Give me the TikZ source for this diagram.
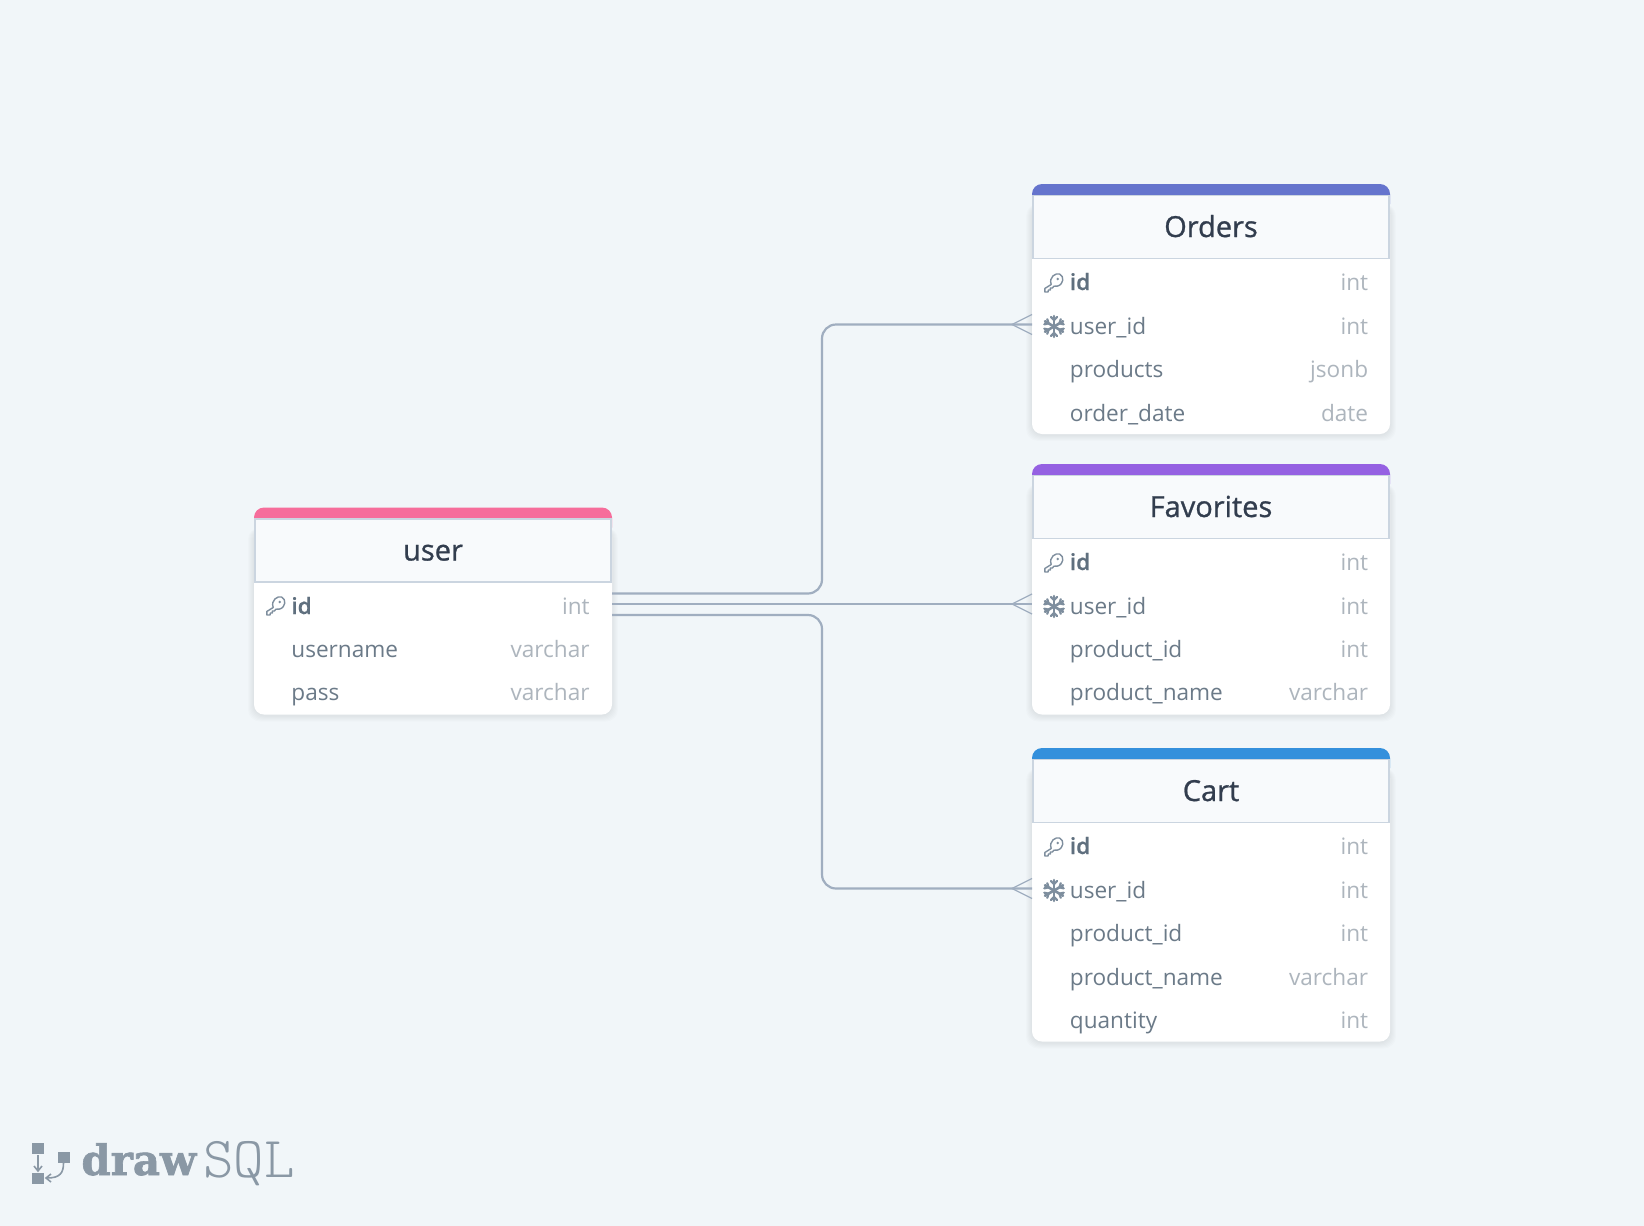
\documentclass[tikz,border=0pt]{standalone}
\usepackage{fontspec}
\setmainfont{Open Sans}
\newfontfamily\titlefont[FakeBold=0.9]{Open Sans}
\newfontfamily\fieldfont{Open Sans}
\newfontfamily\pkfont[FakeBold=0.6]{Open Sans Semibold}
\newfontfamily\logobold[FakeBold=1.5]{DejaVu Serif Bold}
\newfontfamily\logolight{Latin Modern Mono Light}
\definecolor{pagebg}{HTML}{F1F6F9}
\definecolor{headbg}{HTML}{F8FAFC}
\definecolor{headline}{HTML}{CBD5E0}
\definecolor{titlecol}{HTML}{323D4E}
\definecolor{fieldcol}{HTML}{6B7A88}
\definecolor{pkcol}{HTML}{5F6F7E}
\definecolor{typecol}{HTML}{ADB5BD}
\definecolor{relcol}{HTML}{A0AEC0}
\definecolor{iconcol}{HTML}{7E8E9E}
\definecolor{logocol}{HTML}{8A98A5}
\definecolor{pinkcol}{HTML}{F66D9B}
\definecolor{indigocol}{HTML}{6574CD}
\definecolor{purplecol}{HTML}{9561E2}
\definecolor{bluecol}{HTML}{3490DC}
\tikzset{
  x=0.5pt,y=-0.5pt,
  rel/.style={draw=relcol,line width=1.1pt,rounded corners=7pt},
  crow/.style={draw=relcol,line width=0.65pt},
  tabletitle/.style={text=titlecol,font=\titlefont\fontsize{14.5}{16}\selectfont,inner sep=0,anchor=base},
  fieldname/.style={text=fieldcol,font=\fieldfont\fontsize{11.3}{14}\selectfont,inner sep=0,anchor=base west},
  pkname/.style={text=pkcol,font=\pkfont\fontsize{11.3}{14}\selectfont,inner sep=0,anchor=base west},
  typename/.style={text=typecol,font=\fieldfont\fontsize{11.3}{14}\selectfont,inner sep=0,anchor=base east},
  iconline/.style={draw=iconcol,line cap=round,line join=round},
}
% #1 left, #2 right, #3 top, #4 bottom, #5 colour, #6 node name, #7 title
\newcommand{\dbtable}[7]{%
  \foreach \k in {1,...,6}{
    \fill[black,opacity=0.012,rounded corners=6pt]
      ({#1-\k},{#3+20}) rectangle ({#2+\k},{#4+\k+1});
  }
  \fill[#5,rounded corners=5pt] (#1,#3) rectangle (#2,{#3+30});
  \fill[white,rounded corners=5pt] (#1,{#3+20}) rectangle (#2,#4);
  \fill[headbg,draw=headline,line width=0.85pt] (#1+0.85,{#3+11.5}) rectangle (#2-0.85,{#3+74.5});
  \node[tabletitle] (#6) at ({(#1+#2)/2},{#3+53}) {#7};
}
\newcommand{\keyicon}[2]{%
  \begin{scope}[shift={(#1,#2)}]
    \draw[iconline,line width=0.7pt]
      (-2.8,1.5) .. controls (-5.5,-6) and (2,-10.5) .. (5.5,-9)
      .. controls (10.5,-7) and (10,1.5) .. (3.2,3.2)
      .. controls (1.8,3.4) and (0.2,2.8) .. (-0.3,3.3)
      -- (-1.5,5) -- (-3.6,5) -- (-3.6,7) -- (-5.6,7) -- (-6,9) -- (-9.2,9)
      -- (-9.2,5.5) -- cycle;
    \fill[iconcol] (3.8,-4) circle (1.4);
  \end{scope}}
\newcommand{\flakeicon}[2]{%
  \begin{scope}[shift={(#1,#2)}]
    \foreach \a in {30,90,150,210,270,330}{
      \begin{scope}[rotate=\a]
        \draw[iconline,line width=1.3pt] (0,0) -- (10.5,0);
        \draw[iconline,line width=1.1pt] (9.5,-3) -- (6.3,0) -- (9.5,3);
      \end{scope}
    }
  \end{scope}}
% #1 name, #2 row centre y, #3 label x, #4 type x, #5 label, #6 type, #7 style
\newcommand{\dbrow}[7]{%
  \node[#7] (#1) at (#3,{#2+8}) {#5};
  \node[typename] (#1t) at (#4,{#2+8}) {#6};
}
\begin{document}
\begin{tikzpicture}
\useasboundingbox (0,0) rectangle (1644,1226);
\fill[pagebg] (0,0) rectangle (1644,1226);

% ---------- tables
\dbtable{254}{612}{507.5}{714.5}{pinkcol}{userT}{user}
\dbrow{uid}{606}{291}{590}{id}{int}{pkname}
\dbrow{uname}{649}{291}{590}{username}{varchar}{fieldname}
\dbrow{upass}{692}{291}{590}{pass}{varchar}{fieldname}
\keyicon{276}{606}

\dbtable{1032}{1390}{184}{434}{indigocol}{ordersT}{Orders}
\dbrow{oid}{282}{1069.5}{1368.5}{id}{int}{pkname}
\dbrow{ouser}{326}{1069.5}{1368.5}{user\_id}{int}{fieldname}
\dbrow{oprod}{369}{1069.5}{1368.5}{products}{jsonb}{fieldname}
\dbrow{odate}{413}{1069.5}{1368.5}{order\_date}{date}{fieldname}
\keyicon{1054}{283}
\flakeicon{1054}{326.5}

\dbtable{1032}{1390}{464}{714.5}{purplecol}{favT}{Favorites}
\dbrow{fid}{562}{1069.5}{1368.5}{id}{int}{pkname}
\dbrow{fuser}{606}{1069.5}{1368.5}{user\_id}{int}{fieldname}
\dbrow{fprod}{649}{1069.5}{1368.5}{product\_id}{int}{fieldname}
\dbrow{fname}{692}{1069.5}{1368.5}{product\_name}{varchar}{fieldname}
\keyicon{1054}{563}
\flakeicon{1054}{606.5}

\dbtable{1032}{1390}{748}{1041.5}{bluecol}{cartT}{Cart}
\dbrow{cid}{846}{1069.5}{1368.5}{id}{int}{pkname}
\dbrow{cuser}{890}{1069.5}{1368.5}{user\_id}{int}{fieldname}
\dbrow{cprod}{933}{1069.5}{1368.5}{product\_id}{int}{fieldname}
\dbrow{cname}{977}{1069.5}{1368.5}{product\_name}{varchar}{fieldname}
\dbrow{cqty}{1020}{1069.5}{1368.5}{quantity}{int}{fieldname}
\keyicon{1054}{847}
\flakeicon{1054}{890.5}

% ---------- connector ends
\coordinate (uA) at (612,593.5);
\coordinate (uB) at (612,604);
\coordinate (uC) at (612,615);
\coordinate (oP) at (1032,324.5);
\coordinate (fP) at (1032,604);
\coordinate (cP) at (1032,888.5);
\coordinate (bendO) at (822,324.5);
\coordinate (bendC) at (822,888.5);

\draw[rel] (uA) -- (uA -| bendO) -- (bendO) -- (oP);
\draw[rel] (uB) -- (fP);
\draw[rel] (uC) -- (uC -| bendC) -- (bendC) -- (cP);

\foreach \p in {oP,fP,cP}{
  \draw[crow] ([xshift=-10pt]\p) -- ([yshift=5pt]\p);
  \draw[crow] ([xshift=-10pt]\p) -- ([yshift=-5pt]\p);
}

% ---------- logo
\fill[logocol] (32,1143) rectangle (44,1154);
\fill[logocol] (58,1152) rectangle (70,1163);
\fill[logocol] (32,1173) rectangle (44,1184);
\draw[logocol,line width=0.8pt] (38,1155) -- (38,1170);
\draw[logocol,line width=0.8pt] (34,1166) -- (38,1171) -- (42,1166);
\draw[logocol,line width=0.8pt] (63.5,1163) .. controls (63.5,1173) and (60,1178) .. (47,1178);
\draw[logocol,line width=0.8pt] (51,1174) -- (46,1178) -- (51,1182);
\node[inner sep=0,anchor=base west,text=logocol,font=\logobold\fontsize{21}{25}\selectfont] (logoA) at (81,1175) {draw};
\node[inner sep=0,anchor=base west,text=logocol,font=\logolight\fontsize{29}{29}\selectfont] (logoB) at (203,1177) {SQL};
\end{tikzpicture}
\end{document}
